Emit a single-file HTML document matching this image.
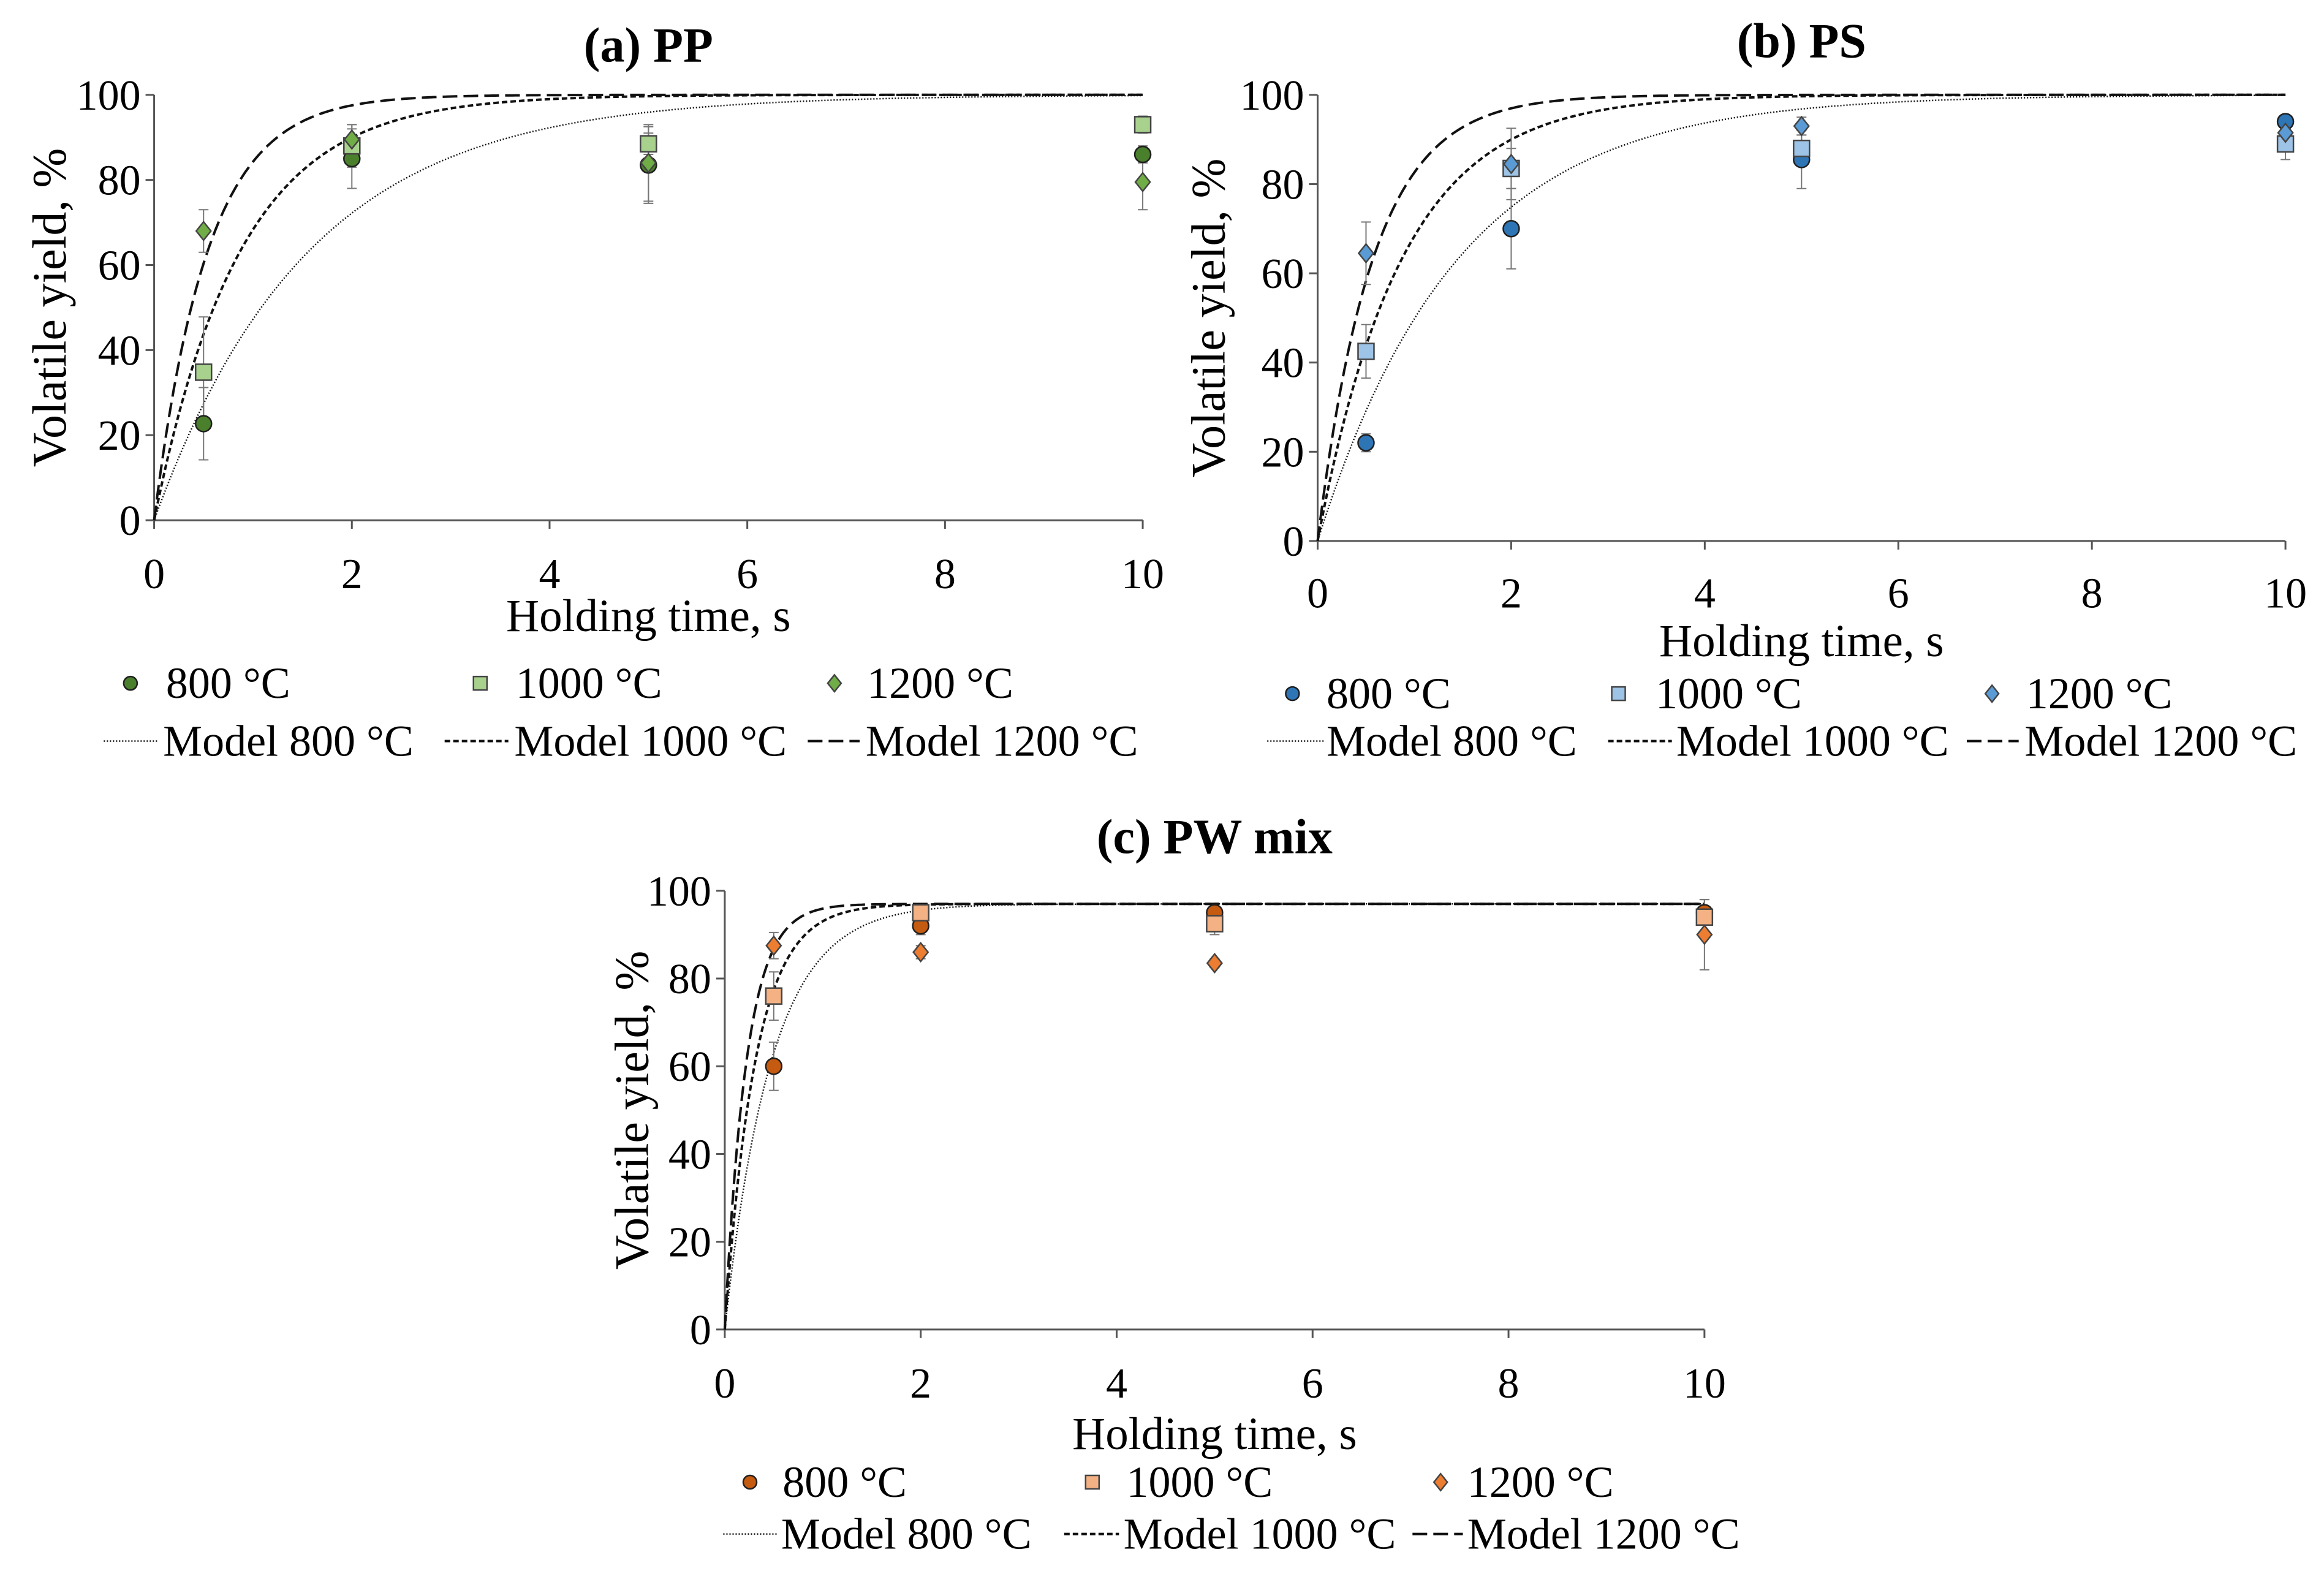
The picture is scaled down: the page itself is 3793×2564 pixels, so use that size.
<!DOCTYPE html>
<html><head><meta charset="utf-8"><style>
html,body{margin:0;padding:0;background:#fff;}
svg{display:block;font-family:"Liberation Serif",serif;}
</style></head><body>
<svg id="fig" width="3793" height="2564" viewBox="0 0 3793 2564" xmlns="http://www.w3.org/2000/svg"></svg>
<script>
const times=[0.5,2,5,10];
const xTicks=[0,2,4,6,8,10];
const yTicks=[0,20,40,60,80,100];
const tempLabels=["800 °C","1000 °C","1200 °C"];
const modelLabels=["Model 800 °C","Model 1000 °C","Model 1200 °C"];
// PP
const ppY800=[22.7,85,83.5,86], ppY1000=[34.8,88,88.5,93], ppY1200=[68,89.5,84,79.5];
const ppE800=[8.5,7,9,2], ppE1000=[13,5,2.5,2], ppE1200=[5,3.5,9,6.5];
const ppK=[0.64,1.15,1.85], ppMax=[100,100,100];
// PS
const psY800=[22,70,85.5,94], psY1000=[42.5,83.5,88,89], psY1200=[64.5,84.5,93,91.5];
const psE800=[2,9,6.5,1.5], psE1000=[6,4.5,3,3.5], psE1200=[7,8,2,1.5];
const psK=[0.69,1.15,1.75], psMax=[100,100,100];
// PW mix
const pwY800=[60,92,95,95], pwY1000=[76,95,92.5,94], pwY1200=[87.5,86,83.5,90];
const pwE800=[5.5,2,1,1], pwE1000=[5.5,1,2.5,4], pwE1200=[3,1.5,1,8];
const pwK=[2.1,3.2,4.5], pwMax=[97,97,97];

const S=2.419;
const NS="http://www.w3.org/2000/svg";
const svg=document.getElementById('fig');
function mk(tag,attrs,parent){const e=document.createElementNS(NS,tag);for(const k in attrs)e.setAttribute(k,attrs[k]);(parent||svg).appendChild(e);return e;}

const panels=[
 {id:'pp',title:'(a) PP',x0:104,x1:771,y0:351,y1:64,titleY:30,tickY:387,xtY:415,yt:40,leg1:461,leg2:500,
  mk:[88,324,563],tx:[112,348,585],ln:[[70,107],[300,343],[545,580]],ltx:[110,347,584],
  ys:[ppY800,ppY1000,ppY1200],es:[ppE800,ppE1000,ppE1200],k:ppK,mx:ppMax,
  col:['#4a7f2c','#a9d18e','#70ad47']},
 {id:'ps',title:'(b) PS',x0:889,x1:1542,y0:365,y1:64,titleY:27,tickY:400,xtY:432,yt:822,leg1:468,leg2:500,
  mk:[872,1092,1344],tx:[895,1117,1367],ln:[[855,893],[1085,1128],[1327,1362]],ltx:[895,1131,1366],
  ys:[psY800,psY1000,psY1200],es:[psE800,psE1000,psE1200],k:psK,mx:psMax,
  col:['#2e75b6','#9dc3e6','#5b9bd5']},
 {id:'pw',title:'(c) PW mix',x0:489,x1:1150,y0:897,y1:601,titleY:564,tickY:933,xtY:967,yt:433,leg1:1000,leg2:1035,
  mk:[506,737,972],tx:[528,760,990],ln:[[488,525],[718,755],[953,987]],ltx:[527,758,990],
  ys:[pwY800,pwY1000,pwY1200],es:[pwE800,pwE1000,pwE1200],k:pwK,mx:pwMax,
  col:['#c55a11','#f4b183','#ed7d31']}
];
const dashes=['2 3','9 5','24 10'];

function marker(g,i,cx,cy,col,r){
  let m;
  if(i===0) m=mk('circle',{cx,cy,r:r,fill:col,stroke:'#1f1f1f','stroke-width':2.5},g);
  else if(i===1) m=mk('rect',{x:cx-r,y:cy-r,width:2*r,height:2*r,fill:col,stroke:'#444','stroke-width':2.5},g);
  else m=mk('polygon',{points:`${cx},${cy-r*1.25} ${cx+r},${cy} ${cx},${cy+r*1.25} ${cx-r},${cy}`,fill:col,stroke:'#444','stroke-width':2.5},g);
  return m;
}

panels.forEach(p=>{
  const X0=p.x0*S,X1=p.x1*S,Y0=p.y0*S,Y1=p.y1*S;
  const sx=v=>X0+(X1-X0)*v/10, sy=v=>Y0-(Y0-Y1)*v/100;
  const g=mk('g',{});
  
  
  const t=mk('text',{x:(X0+X1)/2,y:p.titleY*S+28,'text-anchor':'middle','font-size':80,'font-weight':'bold'},g);
  t.textContent=p.title;
  
  
  const ax=mk('line',{x1:X0,y1:Y0,x2:X1,y2:Y0,stroke:'#555','stroke-width':3},g);
  
  
  const ay=mk('line',{x1:X0,y1:Y0,x2:X0,y2:Y1,stroke:'#555','stroke-width':3},g);
  
  
  xTicks.forEach(v=>{
    mk('line',{x1:sx(v),y1:Y0,x2:sx(v),y2:Y0+14,stroke:'#555','stroke-width':3},g);
    const tl=mk('text',{x:sx(v),y:p.tickY*S+24,'text-anchor':'middle','font-size':70},g);
    tl.textContent=v;
    
    
  });
  yTicks.forEach(v=>{
    mk('line',{x1:X0-14,y1:sy(v),x2:X0,y2:sy(v),stroke:'#555','stroke-width':3},g);
    const tl=mk('text',{x:X0-22,y:sy(v)+24,'text-anchor':'end','font-size':70},g);
    tl.textContent=v;
    
    
  });
  const xt=mk('text',{x:(X0+X1)/2,y:p.xtY*S+26,'text-anchor':'middle','font-size':75},g);
  xt.textContent='Holding time, s';
  
  
  const yc=(Y0+Y1)/2, yx=p.yt*S+10;
  const yt=mk('text',{x:yx,y:yc,'text-anchor':'middle','font-size':78,transform:`rotate(-90 ${yx} ${yc})`},g);
  yt.textContent='Volatile yield, %';
  
  
  for(let i=0;i<3;i++){
    let d='';
    for(let j=0;j<=400;j++){const tt=10*j/400;const v=p.mx[i]*(1-Math.exp(-p.k[i]*tt));d+=(j?'L':'M')+sx(tt).toFixed(1)+','+sy(v).toFixed(1);}
    const l=mk('path',{d,fill:'none',stroke:'#111','stroke-width':i===0?2.5:4,'stroke-dasharray':dashes[i]},g);
    
    
  }
  for(let i=0;i<3;i++){
    times.forEach((tt,j)=>{
      const v=p.ys[i][j],e=p.es[i][j],cx=sx(tt);
      mk('line',{x1:cx,y1:sy(v-e),x2:cx,y2:sy(v+e),stroke:'#777','stroke-width':2},g);
      mk('line',{x1:cx-8,y1:sy(v-e),x2:cx+8,y2:sy(v-e),stroke:'#777','stroke-width':2},g);
      mk('line',{x1:cx-8,y1:sy(v+e),x2:cx+8,y2:sy(v+e),stroke:'#777','stroke-width':2},g);
    });
  }
  for(let i=0;i<3;i++){
    times.forEach((tt,j)=>{
      const m=marker(g,i,sx(tt),sy(p.ys[i][j]),p.col[i],i===2?12:13);
      
      
    });
  }
  for(let i=0;i<3;i++){
    const m=marker(g,i,p.mk[i]*S,p.leg1*S,p.col[i],11);
    
    
    const lt=mk('text',{x:p.tx[i]*S,y:p.leg1*S+24,'font-size':72},g);
    lt.textContent=tempLabels[i];
    
    
    mk('line',{x1:p.ln[i][0]*S,y1:p.leg2*S,x2:p.ln[i][1]*S,y2:p.leg2*S,stroke:'#111','stroke-width':i===0?2.5:4,'stroke-dasharray':dashes[i]},g);
    const mt=mk('text',{x:p.ltx[i]*S,y:p.leg2*S+24,'font-size':72},g);
    mt.textContent=modelLabels[i];
    
    
  }
});
</script>
</body></html>
